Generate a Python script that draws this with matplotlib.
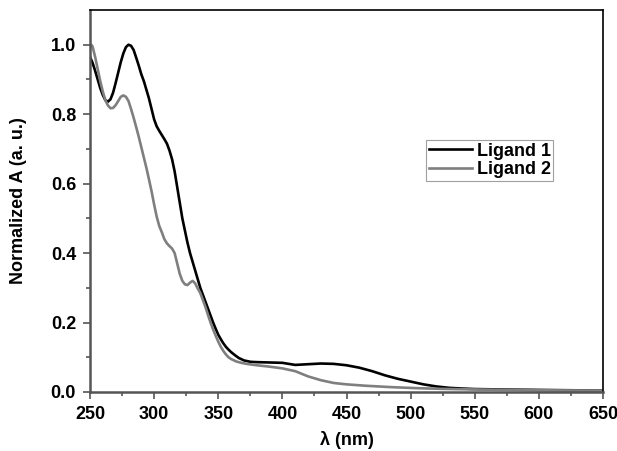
import matplotlib
matplotlib.use('Agg')
import matplotlib.pyplot as plt
import numpy as np

plt.rcParams['font.family'] = ['Liberation Sans', 'DejaVu Sans']
plt.rcParams['font.weight'] = 'bold'

# Ligand 1 (black)
wl1 = [250, 252, 254, 256, 258, 260, 262, 264, 266, 268, 270, 272, 274, 276, 278, 280, 282, 284,
       286, 288, 290, 292, 294, 296, 298, 300, 302, 304, 306, 308, 310, 312, 314, 316, 318, 320,
       322, 324, 326, 328, 330, 332, 334, 336, 338, 340, 342, 344, 346, 348, 350, 352, 354, 356,
       358, 360, 363, 366, 370, 375, 380, 390, 400, 405, 410, 415, 420, 430, 440, 450, 460, 470,
       480, 490, 500, 510, 520, 530, 540, 550, 575, 600, 625, 650]
ab1 = [0.965, 0.948, 0.925, 0.90, 0.875, 0.855, 0.84, 0.836, 0.843, 0.862, 0.89, 0.92, 0.95, 0.975,
       0.993, 1.0, 0.997, 0.985, 0.963, 0.94, 0.915, 0.895, 0.87, 0.845, 0.815, 0.785, 0.765, 0.752,
       0.74, 0.728, 0.715, 0.695, 0.67, 0.635, 0.59, 0.545, 0.50, 0.465, 0.43, 0.40, 0.375, 0.35,
       0.325, 0.30, 0.28, 0.26, 0.24, 0.22, 0.20, 0.182, 0.165, 0.152, 0.14, 0.13, 0.122, 0.115,
       0.106, 0.098, 0.091, 0.087, 0.086, 0.085, 0.084, 0.081, 0.078, 0.079, 0.080, 0.082, 0.081,
       0.077, 0.070, 0.060, 0.048, 0.038, 0.030, 0.022, 0.016, 0.012, 0.010, 0.0085, 0.007, 0.006,
       0.005, 0.004]

# Ligand 2 (gray)
wl2 = [250, 251, 252, 254, 256, 258, 260, 262, 264, 266, 268, 270, 272, 274, 276, 278, 280, 282,
       284, 286, 288, 290, 292, 294, 296, 298, 300, 302, 304, 306, 308, 310, 312, 314, 316, 318,
       320, 322, 324, 326, 328, 330, 332, 334, 336, 338, 340, 342, 344, 346, 348, 350, 352, 354,
       356, 358, 360, 364, 368, 372, 376, 380, 390, 400, 410, 420, 430, 440, 450, 465, 485, 505,
       525, 545, 575, 600, 650]
ab2 = [0.99, 1.0, 0.995, 0.965, 0.93, 0.895, 0.865, 0.84, 0.825, 0.817, 0.818, 0.826, 0.838, 0.85,
       0.854, 0.85, 0.838, 0.815, 0.79, 0.763, 0.735, 0.705, 0.675, 0.645, 0.612, 0.578, 0.54, 0.505,
       0.478, 0.46, 0.44, 0.428, 0.42, 0.413, 0.40, 0.37, 0.34, 0.32, 0.31, 0.308, 0.315, 0.32, 0.313,
       0.298, 0.285, 0.265, 0.245, 0.222, 0.20, 0.18, 0.162, 0.145, 0.13, 0.118, 0.108, 0.10, 0.095,
       0.088, 0.084, 0.081, 0.079, 0.077, 0.073, 0.068, 0.060, 0.045, 0.034, 0.026, 0.022, 0.018,
       0.014, 0.011, 0.009, 0.0077, 0.006, 0.005, 0.004]

fig = plt.figure(figsize=(6.17, 4.51), dpi=100)
ax = fig.add_axes([90/617, 59/451, 513/617, 382/451])

ax.plot(wl1, ab1, color='black', linewidth=1.9, label='Ligand 1')
ax.plot(wl2, ab2, color='#7f7f7f', linewidth=1.9, label='Ligand 2')

ax.set_xlim(250, 650)
ax.set_ylim(0, 1.1)
ax.set_xticks(np.arange(250, 651, 50))
ax.set_xticks(np.arange(275, 651, 50), minor=True)
ax.set_yticks([0.0, 0.2, 0.4, 0.6, 0.8, 1.0])
ax.set_yticks([0.1, 0.3, 0.5, 0.7, 0.9], minor=True)
ax.set_yticklabels(['0.0', '0.2', '0.4', '0.6', '0.8', '1.0'])

for s in ['left', 'bottom']:
    ax.spines[s].set_color('#555555')
    ax.spines[s].set_linewidth(1.8)
for s in ['top', 'right']:
    ax.spines[s].set_color('black')
    ax.spines[s].set_linewidth(1.2)

ax.tick_params(which='major', direction='out', length=5, width=1.2, color='#555555',
               labelsize=13, pad=5)
ax.tick_params(which='minor', direction='out', length=3, width=1.2, color='#555555')
for lbl in ax.get_xticklabels() + ax.get_yticklabels():
    lbl.set_fontweight('bold')

ax.set_xlabel('λ (nm)', fontsize=13, fontweight='bold', labelpad=6)
ax.set_ylabel('Normalized A (a. u.)', fontsize=13, fontweight='bold', labelpad=17)

leg = ax.legend(loc='upper left', bbox_to_anchor=(0.655, 0.66), fontsize=13,
                frameon=True, fancybox=False, borderpad=0.15, handlelength=2.4,
                handletextpad=0.25, labelspacing=0.1, borderaxespad=0)
leg.get_frame().set_edgecolor('#888888')
leg.get_frame().set_linewidth(0.8)
for t in leg.get_texts():
    t.set_fontweight('bold')

fig.savefig('out.png', dpi=100)
